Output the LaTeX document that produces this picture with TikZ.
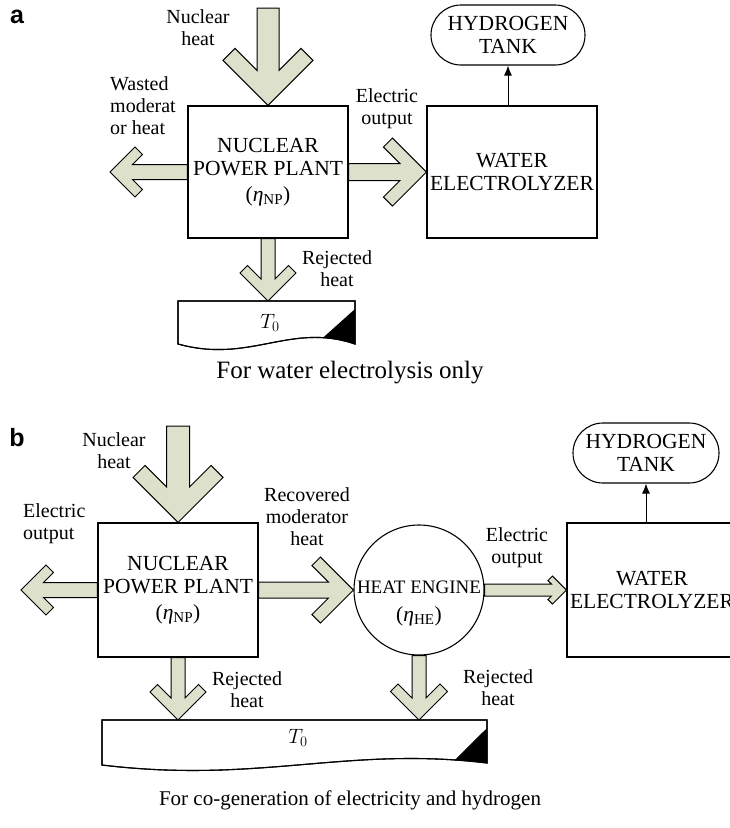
\documentclass[tikz,border=0pt]{standalone}
\usepackage{fontspec}
\setmainfont{Liberation Serif}
\newfontfamily\panelfont{Liberation Sans}
\usetikzlibrary{calc,arrows.meta}
\definecolor{flowfill}{RGB}{221,225,204}

% Broad flow arrow from a tail point #1 to a tip point #2:
% #3 half shaft width, #4 half head width, #5 chevron offset
\newcommand{\fatarrow}[5]{%
  \pgfmathsetmacro{\fas}{#3}%
  \pgfmathsetmacro{\fah}{#4}%
  \pgfmathsetmacro{\faA}{#4+#5}%
  \pgfmathsetmacro{\faB}{#4-#5}%
  \pgfmathsetmacro{\faC}{2*#5+#3}%
  \path ($(#2)!\fah pt!(#1)$) coordinate (fa-h)
        ($(#2)!\faA pt!(#1)$) coordinate (fa-a)
        ($(#2)!\faC pt!(#1)$) coordinate (fa-c);
  \draw[flowarrow] (#2)
    -- ($(fa-h)!\fah pt!90:(#1)$)
    -- ($(fa-a)!\faB pt!90:(#1)$)
    -- ($(fa-c)!\fas pt!90:(#1)$)
    -- ($(#1)!\fas pt!-90:(#2)$)
    -- ($(#1)!\fas pt!90:(#2)$)
    -- ($(fa-c)!\fas pt!-90:(#1)$)
    -- ($(fa-a)!\faB pt!-90:(#1)$)
    -- ($(fa-h)!\fah pt!-90:(#1)$)
    -- cycle;}

\begin{document}
\begin{tikzpicture}[x=1pt,y=-1pt,
  flowarrow/.style={draw=black, fill=flowfill, line width=1pt, line join=miter},
  unit/.style={draw, line width=1.1pt, inner sep=0pt, align=center,
    font=\fontsize{21.5}{23}\selectfont},
  tank/.style={unit, rounded corners=30pt},
  lbl/.style={inner sep=0pt, align=center, font=\fontsize{20}{22}\selectfont},
  capa/.style={inner sep=0pt, font=\fontsize{25}{27}\selectfont},
  capb/.style={inner sep=0pt, font=\fontsize{21}{23}\selectfont},
  panel/.style={inner sep=0pt, font=\panelfont\bfseries\fontsize{25}{27}\selectfont},
  tlabel/.style={inner sep=0pt, font=\fontsize{20}{22}\selectfont},
  bar/.style={draw, line width=1.1pt, fill=white},
  small/.style={line width=1pt, -{Latex[length=10pt,width=8pt]}}]

\useasboundingbox (0,0) rectangle (730,828);
\clip (0,0) rectangle (730,828);

% ---------------- panel a: electrolysis only ----------------
\node[panel] (lbla) at (17,17) {a};

\node[unit, minimum width=160, minimum height=132] (npa) at (268,172)
  {NUCLEAR\\POWER PLANT\\[3pt](\textit{η}\textsubscript{NP})};
\node[unit, minimum width=170, minimum height=132] (wea) at (512,172)
  {WATER\\ELECTROLYZER};
\node[tank, minimum width=154, minimum height=60] (tanka) at (508,35)
  {HYDROGEN\\TANK};

\coordinate (nha) at (268,8);
\coordinate (wha) at (110,172);
\coordinate (bara) at (268,301);

% heat sink at T0
\def\sinka{(178,301) -- (355,301) -- (355,344) .. controls (290,322) and (250,364) .. (178,344) -- cycle}
\draw[bar] \sinka;
\begin{scope}
  \clip \sinka;
  \fill (323,337.7) -- (355,309) -- (362,309) -- (362,370) -- (323,370) -- cycle;
\end{scope}
\draw[line width=1.1pt] \sinka;
\node[tlabel] (t0a) at (270,323) {$T_0$};

\fatarrow{nha}{npa.north}{11}{45}{12}
\fatarrow{npa.west}{wha}{7.5}{25}{7.5}
\fatarrow{npa.east}{wea.west}{8.5}{34}{9}
\fatarrow{npa.south}{bara}{7}{28}{7.5}
\draw[small] (tanka.south |- wea.north) -- (tanka.south);

\node[lbl] (nhla) at (198,27.5) {Nuclear\\heat};
\node[lbl, align=left, anchor=west] (wla) at (110,106) {Wasted\\moderat\\or heat};
\node[lbl] (eola) at (387,108.5) {Electric\\output};
\node[lbl] (rjla) at (337,269) {Rejected\\heat};
\node[capa] (cpa) at (350,373) {For water electrolysis only};

% ---------------- panel b: co-generation ----------------
\node[panel] (lblb) at (17,438) {b};

\node[unit, minimum width=160, minimum height=134] (npb) at (178,590)
  {NUCLEAR\\POWER PLANT\\[3pt](\textit{η}\textsubscript{NP})};
\node[draw, circle, line width=1.1pt, minimum size=130, inner sep=0pt] (he) at (419,590) {};
\node[inner sep=0pt, font=\fontsize{19}{21}\selectfont] (het) at (419,587) {HEAT ENGINE};
\node[inner sep=0pt, font=\fontsize{21.5}{23}\selectfont] (hee) at (419,616) {(\textit{η}\textsubscript{HE})};
\node[unit, minimum width=170, minimum height=134] (web) at (652,590)
  {WATER\\ELECTROLYZER};
\node[tank, minimum width=146, minimum height=60] (tankb) at (646,453)
  {HYDROGEN\\TANK};

\coordinate (nhb) at (178,426);
\coordinate (eob) at (21,590);
\coordinate (barb1) at (178,720);
\coordinate (barb2) at (419,720);

\def\sinkb{(102,720) -- (487,720) -- (487,763) .. controls (346,746) and (259,784) .. (102,765) -- cycle}
\draw[bar] \sinkb;
\begin{scope}
  \clip \sinkb;
  \fill (455,759.9) -- (487,728) -- (494,728) -- (494,790) -- (455,790) -- cycle;
\end{scope}
\draw[line width=1.1pt] \sinkb;
\node[tlabel] (t0b) at (298,738) {$T_0$};

\fatarrow{nhb}{npb.north}{11.5}{45}{12}
\fatarrow{npb.west}{eob}{7.5}{25}{7.5}
\fatarrow{npb.east}{he.west}{8}{33}{8.5}
\fatarrow{he.east}{web.west}{6}{14}{4.5}
\fatarrow{npb.south}{barb1}{7}{28}{7.5}
\fatarrow{he.south}{barb2}{7}{28.5}{7.5}
\draw[small] (tankb.south |- web.north) -- (tankb.south);

\node[lbl] (nhlb) at (114,451) {Nuclear\\heat};
\node[lbl, align=left, anchor=west] (eolb) at (23,524) {Electric\\output};
\node[lbl] (rmlb) at (307,517) {Recovered\\moderator\\heat};
\node[lbl] (eolc) at (517,547.5) {Electric\\output};
\node[lbl] (rjlb) at (247,690) {Rejected\\heat};
\node[lbl] (rjlc) at (498,688) {Rejected\\heat};
\node[capb] (cpb) at (350,800) {For co-generation of electricity and hydrogen};
\end{tikzpicture}
\end{document}
